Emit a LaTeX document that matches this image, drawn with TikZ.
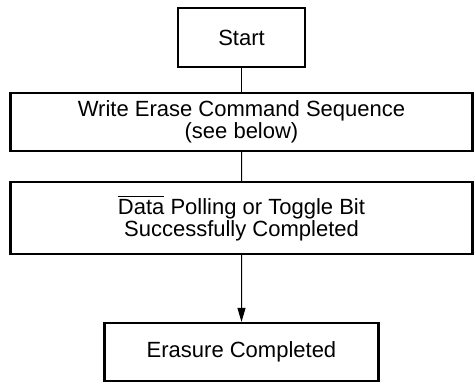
\documentclass[tikz,border=0pt]{standalone}
\usepackage{fontspec}
\setmainfont{Liberation Sans}
\usetikzlibrary{arrows.meta,trees}
\tikzset{
  box/.style  = {rectangle, draw, line width=1.1pt, align=center,
                 inner sep=0pt, minimum height=29pt,
                 font=\fontsize{11}{11.25}\selectfont},
  wide/.style = {box, minimum width=231pt},
  arr/.style  = {-{Triangle[length=7pt,width=4pt]}}
}

\begin{document}
\begin{tikzpicture}[
      grow=down,
      level 1/.style={level distance=42.25pt},
      level 2/.style={level distance=48pt},
      level 3/.style={level distance=67pt},
      edge from parent/.style={draw, line width=0.5pt}
    ]
    \useasboundingbox (-120.75pt,18.75pt) rectangle (116.75pt,-176.75pt);
    \node[box,minimum width=63.5pt,minimum height=29.5pt] (start) {Start}
      child { node[wide] (write)
        {Write Erase Command Sequence\\(see below)}
        child { node[wide,minimum height=36pt] (poll)
          {$\overline{\mbox{Data}}$ Polling or Toggle Bit\\
           Successfully Completed}
          child { node[box,minimum width=137pt] (done)
            {Erasure Completed}
            edge from parent[arr] } } };
  \end{tikzpicture}
\end{document}
